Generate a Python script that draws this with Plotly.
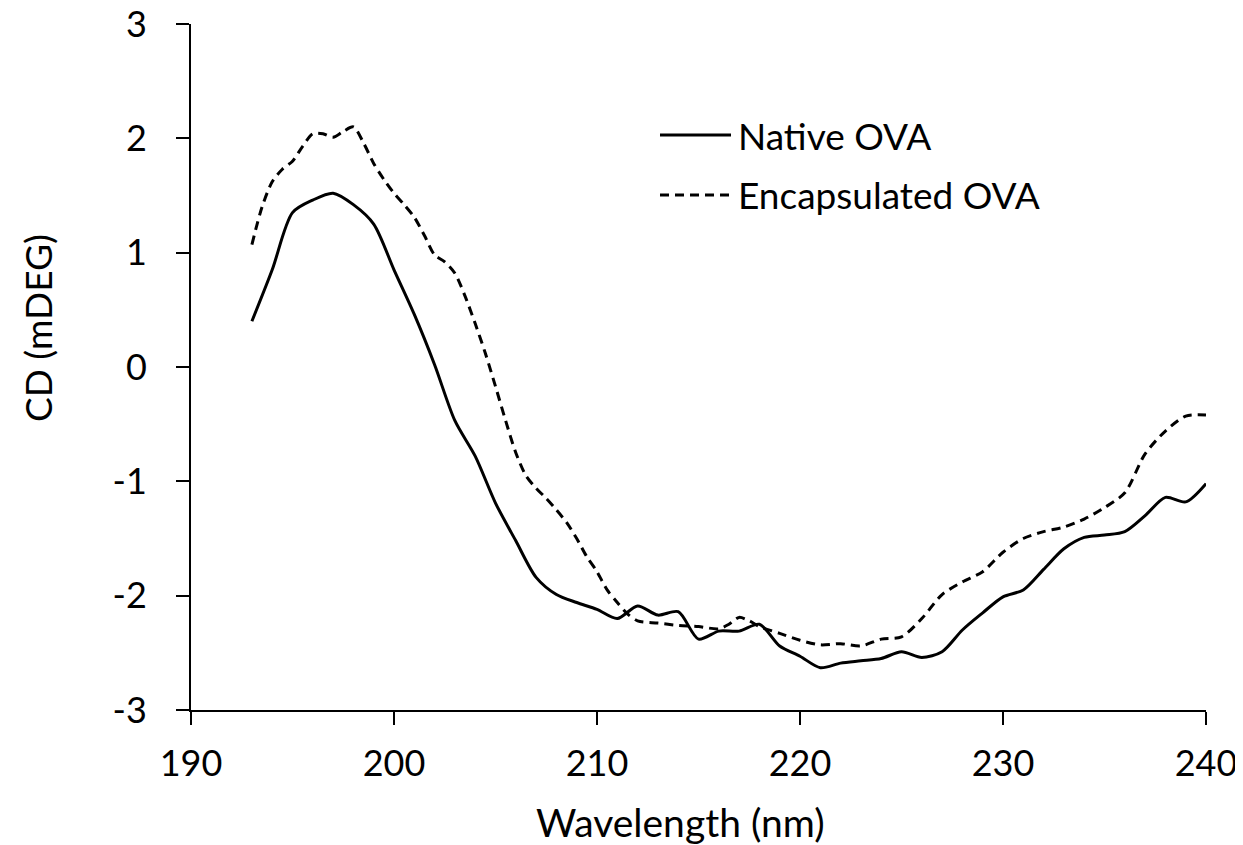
import plotly.graph_objects as go

# Native OVA (solid)
native_wl = [193, 194, 195, 196, 197, 198, 199, 200, 201, 202, 203, 204, 205, 206, 207, 208,
             209, 210, 211, 212, 213, 214, 215, 216, 217, 218, 219, 220, 221, 222, 223, 224,
             225, 226, 227, 228, 229, 230, 231, 232, 233, 234, 235, 236, 237, 238, 239, 240]
native_cd = [0.40, 0.85, 1.35, 1.46, 1.52, 1.42, 1.25, 0.85, 0.46, 0.02, -0.47, -0.78, -1.19,
             -1.52, -1.84, -1.99, -2.06, -2.12, -2.20, -2.09, -2.17, -2.14, -2.38, -2.31, -2.31,
             -2.25, -2.44, -2.53, -2.63, -2.59, -2.57, -2.55, -2.49, -2.54, -2.49, -2.30, -2.15,
             -2.01, -1.95, -1.77, -1.59, -1.49, -1.47, -1.44, -1.30, -1.14, -1.18, -1.02]

# Encapsulated OVA (dashed)
encap_wl = [193, 193.5, 194, 194.5, 195, 195.5, 196, 196.5, 197, 197.5, 198, 198.5, 199, 199.5,
            200, 200.5, 201, 201.5, 202, 202.5, 203, 203.5, 204, 204.5, 205, 205.5, 206, 206.5,
            207, 207.5, 208, 208.5, 209, 209.5, 210, 210.5, 211, 211.5, 212, 213, 214, 215, 216,
            216.5, 217, 217.5, 218, 219, 220, 221, 222, 223, 224, 225, 226, 227, 228, 229, 230,
            231, 232, 233, 234, 235, 236, 237, 238, 239, 240]
encap_cd = [1.07, 1.40, 1.62, 1.73, 1.80, 1.93, 2.04, 2.04, 2.01, 2.06, 2.10, 1.96, 1.78, 1.64,
            1.52, 1.42, 1.31, 1.15, 0.98, 0.92, 0.82, 0.62, 0.38, 0.12, -0.17, -0.47, -0.75, -0.95,
            -1.06, -1.15, -1.25, -1.36, -1.50, -1.66, -1.79, -1.95, -2.06, -2.16, -2.22, -2.24,
            -2.26, -2.27, -2.29, -2.25, -2.19, -2.22, -2.27, -2.33, -2.39, -2.43, -2.42, -2.44,
            -2.38, -2.36, -2.20, -1.99, -1.88, -1.79, -1.62, -1.50, -1.44, -1.40, -1.33, -1.23,
            -1.10, -0.76, -0.56, -0.43, -0.42]

series_names = ["Native OVA", "Encapsulated OVA"]
series_dash = ["solid", "9px,6px"]

x_ticks = [190, 200, 210, 220, 230, 240]
x_ticktext = ["190", "200", "210", "220", "230", "240"]
y_ticks = [-3, -2, -1, 0, 1, 2, 3]
y_ticktext = ["-3", "-2", "-1", "0", "1", "2", "3"]

x_title = "Wavelength (nm)"
y_title = "CD (mDEG)"

FONT = "Lato"
TICK_FS = 36
TEXT_FS = 37

# the page body has an 8px margin, so the figure is drawn 8px in from the corner
OFF = 8
W, H = 1243 - OFF, 845 - OFF
PLOT_L, PLOT_R, PLOT_T, PLOT_B = 191, 1206, 24, 710   # page pixels of the plot area
L = PLOT_L - OFF
T = PLOT_T - OFF
R = W - (PLOT_R - OFF)
B = H - (PLOT_B - OFF)
PW, PH = PLOT_R - PLOT_L, PLOT_B - PLOT_T


def px_x(px):
    return (px - PLOT_L) / PW


def px_y(py):
    return (PLOT_B - py) / PH


fig = go.Figure()
fig.add_trace(go.Scatter(x=native_wl, y=native_cd, mode="lines", name=series_names[0],
                         showlegend=False,
                         line=dict(color="black", width=3, dash=series_dash[0],
                                   shape="spline", smoothing=0.8)))
fig.add_trace(go.Scatter(x=encap_wl, y=encap_cd, mode="lines", name=series_names[1],
                         showlegend=False,
                         line=dict(color="black", width=3, dash=series_dash[1],
                                   shape="spline", smoothing=0.8)))

axis_common = dict(showgrid=False, zeroline=False, showline=True, linecolor="black",
                   linewidth=2, ticks="outside", ticklen=13, tickwidth=2, tickcolor="black",
                   automargin=False, ticklabeloverflow="allow",
                   tickfont=dict(family=FONT, size=TICK_FS, color="black"))

fig.update_xaxes(range=[190, 240], tickvals=x_ticks, ticktext=x_ticktext,
                 ticklabelstandoff=8, **axis_common)
fig.update_yaxes(range=[-3, 3], tickvals=y_ticks, ticktext=y_ticktext,
                 ticklabelstandoff=22, **axis_common)

# axis titles
fig.add_annotation(text=y_title, textangle=-90, xref="paper", yref="paper",
                   x=px_x(37), y=px_y(328), xanchor="center", yanchor="middle",
                   showarrow=False, font=dict(family=FONT, size=TEXT_FS, color="black"))
fig.add_annotation(text=x_title, xref="paper", yref="paper",
                   x=px_x(680), y=px_y(822), xanchor="center", yanchor="middle",
                   showarrow=False, font=dict(family=FONT, size=39, color="black"))

# legend (drawn manually to match the long line samples)
legend_y = [135, 195]
for name, dash, ly in zip(series_names, series_dash, legend_y):
    fig.add_shape(type="line", xref="paper", yref="paper",
                  x0=px_x(660), x1=px_x(731), y0=px_y(ly), y1=px_y(ly),
                  line=dict(color="black", width=3, dash=dash))
    fig.add_annotation(text=name, xref="paper", yref="paper",
                       x=px_x(736), y=px_y(ly), xanchor="left", yanchor="middle",
                       showarrow=False, font=dict(family=FONT, size=TEXT_FS, color="black"))

fig.update_layout(
    width=W, height=H,
    margin=dict(l=L, r=R, t=T, b=B),
    paper_bgcolor="white", plot_bgcolor="white",
    font=dict(family=FONT, size=TICK_FS, color="black"),
    showlegend=False,
)

fig.write_html("out.html")
